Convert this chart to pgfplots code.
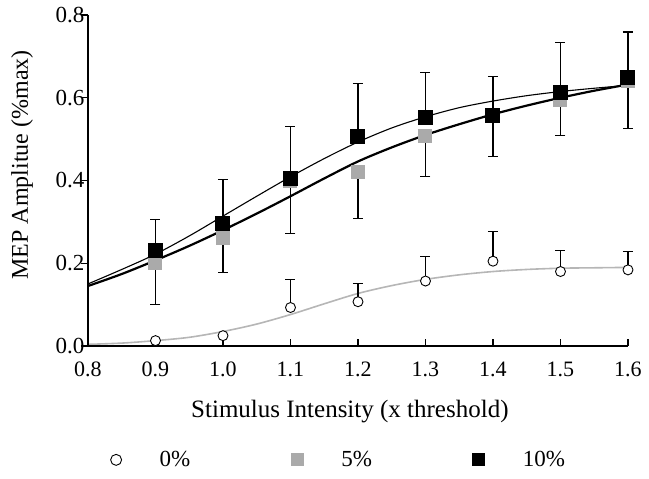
\documentclass[border=0pt]{standalone}
\usepackage{fontspec}
\setmainfont{Liberation Serif}
\usepackage{pgfplots}
\usepackage{pgfplotstable}
\pgfplotsset{compat=1.18}
\definecolor{mgray}{RGB}{170,170,170}
\definecolor{cgray}{RGB}{182,182,182}

\pgfplotstableread{
x y e
0.9 0.013 0.0
1.0 0.025 0.0
1.1 0.093 0.067
1.2 0.107 0.045
1.3 0.157 0.059
1.4 0.205 0.071
1.5 0.180 0.050
1.6 0.184 0.044
}\zero
\pgfplotstableread{
x y e
0.9 0.200 0.099
1.0 0.262 0.085
1.1 0.400 0.128
1.2 0.420 0.111
1.3 0.508 0.099
1.4 0.555 0.096
1.5 0.595 0.087
1.6 0.640 0.115
}\five
\pgfplotstableread{
x y e
0.9 0.232 0.073
1.0 0.296 0.107
1.1 0.405 0.125
1.2 0.507 0.128
1.3 0.553 0.108
1.4 0.556 0.095
1.5 0.613 0.121
1.6 0.649 0.110
}\ten
\pgfplotstableread{
x y
0.80 0.004
0.85 0.007
0.90 0.013
0.95 0.021
1.00 0.035
1.05 0.053
1.10 0.076
1.15 0.102
1.20 0.127
1.25 0.146
1.30 0.161
1.35 0.172
1.40 0.180
1.45 0.185
1.50 0.188
1.55 0.189
1.60 0.190
}\fitzero
\pgfplotstableread{
x y
0.80 0.145
0.85 0.174
0.90 0.207
0.95 0.242
1.00 0.280
1.05 0.320
1.10 0.362
1.15 0.405
1.20 0.446
1.25 0.480
1.30 0.510
1.35 0.536
1.40 0.560
1.45 0.581
1.50 0.600
1.55 0.617
1.60 0.632
}\fitfive
\pgfplotstableread{
x y
0.80 0.150
0.85 0.185
0.90 0.222
0.95 0.266
1.00 0.314
1.05 0.362
1.10 0.409
1.15 0.453
1.20 0.493
1.25 0.527
1.30 0.554
1.35 0.576
1.40 0.592
1.45 0.605
1.50 0.615
1.55 0.623
1.60 0.630
}\fitten

\begin{document}
\begin{tikzpicture}
\begin{axis}[
  name=ax,
  scale only axis, width=540bp, height=331bp,
  xmin=0.8, xmax=1.6, ymin=0, ymax=0.8,
  axis x line*=bottom, axis y line*=left,
  axis line style={line width=1.5bp, -},
  xtick={0.8,0.9,1.0,1.1,1.2,1.3,1.4,1.5,1.6},
  ytick={0,0.2,0.4,0.6,0.8},
  xticklabels={0.8,0.9,1.0,1.1,1.2,1.3,1.4,1.5,1.6},
  yticklabels={0.0,0.2,0.4,0.6,0.8},
  tick align=inside, major tick length=7bp,
  tick style={line width=1.2bp, black},
  every major y tick/.append style={xshift=-7bp},
  xticklabel style={font=\fontsize{22bp}{25bp}\selectfont, yshift=-12bp},
  yticklabel style={font=\fontsize{23bp}{26bp}\selectfont},
  xlabel={Stimulus Intensity (x threshold)},
  ylabel={MEP Amplitue (\%max)},
  xlabel style={at={(axis description cs:0.485,-0.199)}, anchor=center, font=\fontsize{25bp}{28bp}\selectfont},
  ylabel style={at={(axis description cs:-0.122,0.547)}, anchor=center, font=\fontsize{24bp}{27bp}\selectfont},
  clip=false, axis on top,
  legend columns=3,
  legend style={at={(axis description cs:0.036,-0.344)}, anchor=west, draw=none, fill=none,
    font=\fontsize{23bp}{26bp}\selectfont, nodes={inner sep=0pt},
    /tikz/every odd column/.append style={column sep=38bp},
    /tikz/every even column/.append style={column sep=101bp}},
  legend image code/.code={\draw[#1] plot coordinates {(0pt,0pt)};},
]
\addplot[cgray, line width=1.6bp, smooth, forget plot] table[x=x,y=y] {\fitzero};
\addplot[black, line width=2.2bp, smooth, forget plot] table[x=x,y=y] {\fitfive};
\addplot[black, line width=1.1bp, smooth, forget plot] table[x=x,y=y] {\fitten};

\addplot[black, only marks, mark=*, mark size=5bp,
  mark options={fill=white, draw=black, line width=0.9bp},
  legend image post style={mark size=5.5bp},
  error bars/.cd, y dir=plus, y explicit,
  error bar style={black, line width=1.1bp},
  error mark options={rotate=90, mark size=5bp, black, line width=1.1bp}]
  table[x=x, y=y, y error=e] {\zero};
\addlegendentry{0\%}

\addplot[mgray, only marks, mark=square*, mark size=6.5bp,
  mark options={fill=mgray, draw=mgray, line width=0pt},
  legend image post style={mark size=6bp},
  error bars/.cd, y dir=minus, y explicit,
  error bar style={black, line width=1.1bp},
  error mark options={rotate=90, mark size=5bp, black, line width=1.1bp}]
  table[x=x, y=y, y error=e] {\five};
\addlegendentry{5\%}

\addplot[black, only marks, mark=square*, mark size=7bp,
  mark options={fill=black, draw=black, line width=0pt},
  legend image post style={mark size=6bp},
  error bars/.cd, y dir=plus, y explicit,
  error bar style={black, line width=1.1bp},
  error mark options={rotate=90, mark size=5bp, black, line width=1.1bp}]
  table[x=x, y=y, y error=e] {\ten};
\addlegendentry{10\%}
\end{axis}
\path (ax.south west) ++(-88bp,-133bp) rectangle ++(649bp,479bp);
\end{tikzpicture}
\end{document}
